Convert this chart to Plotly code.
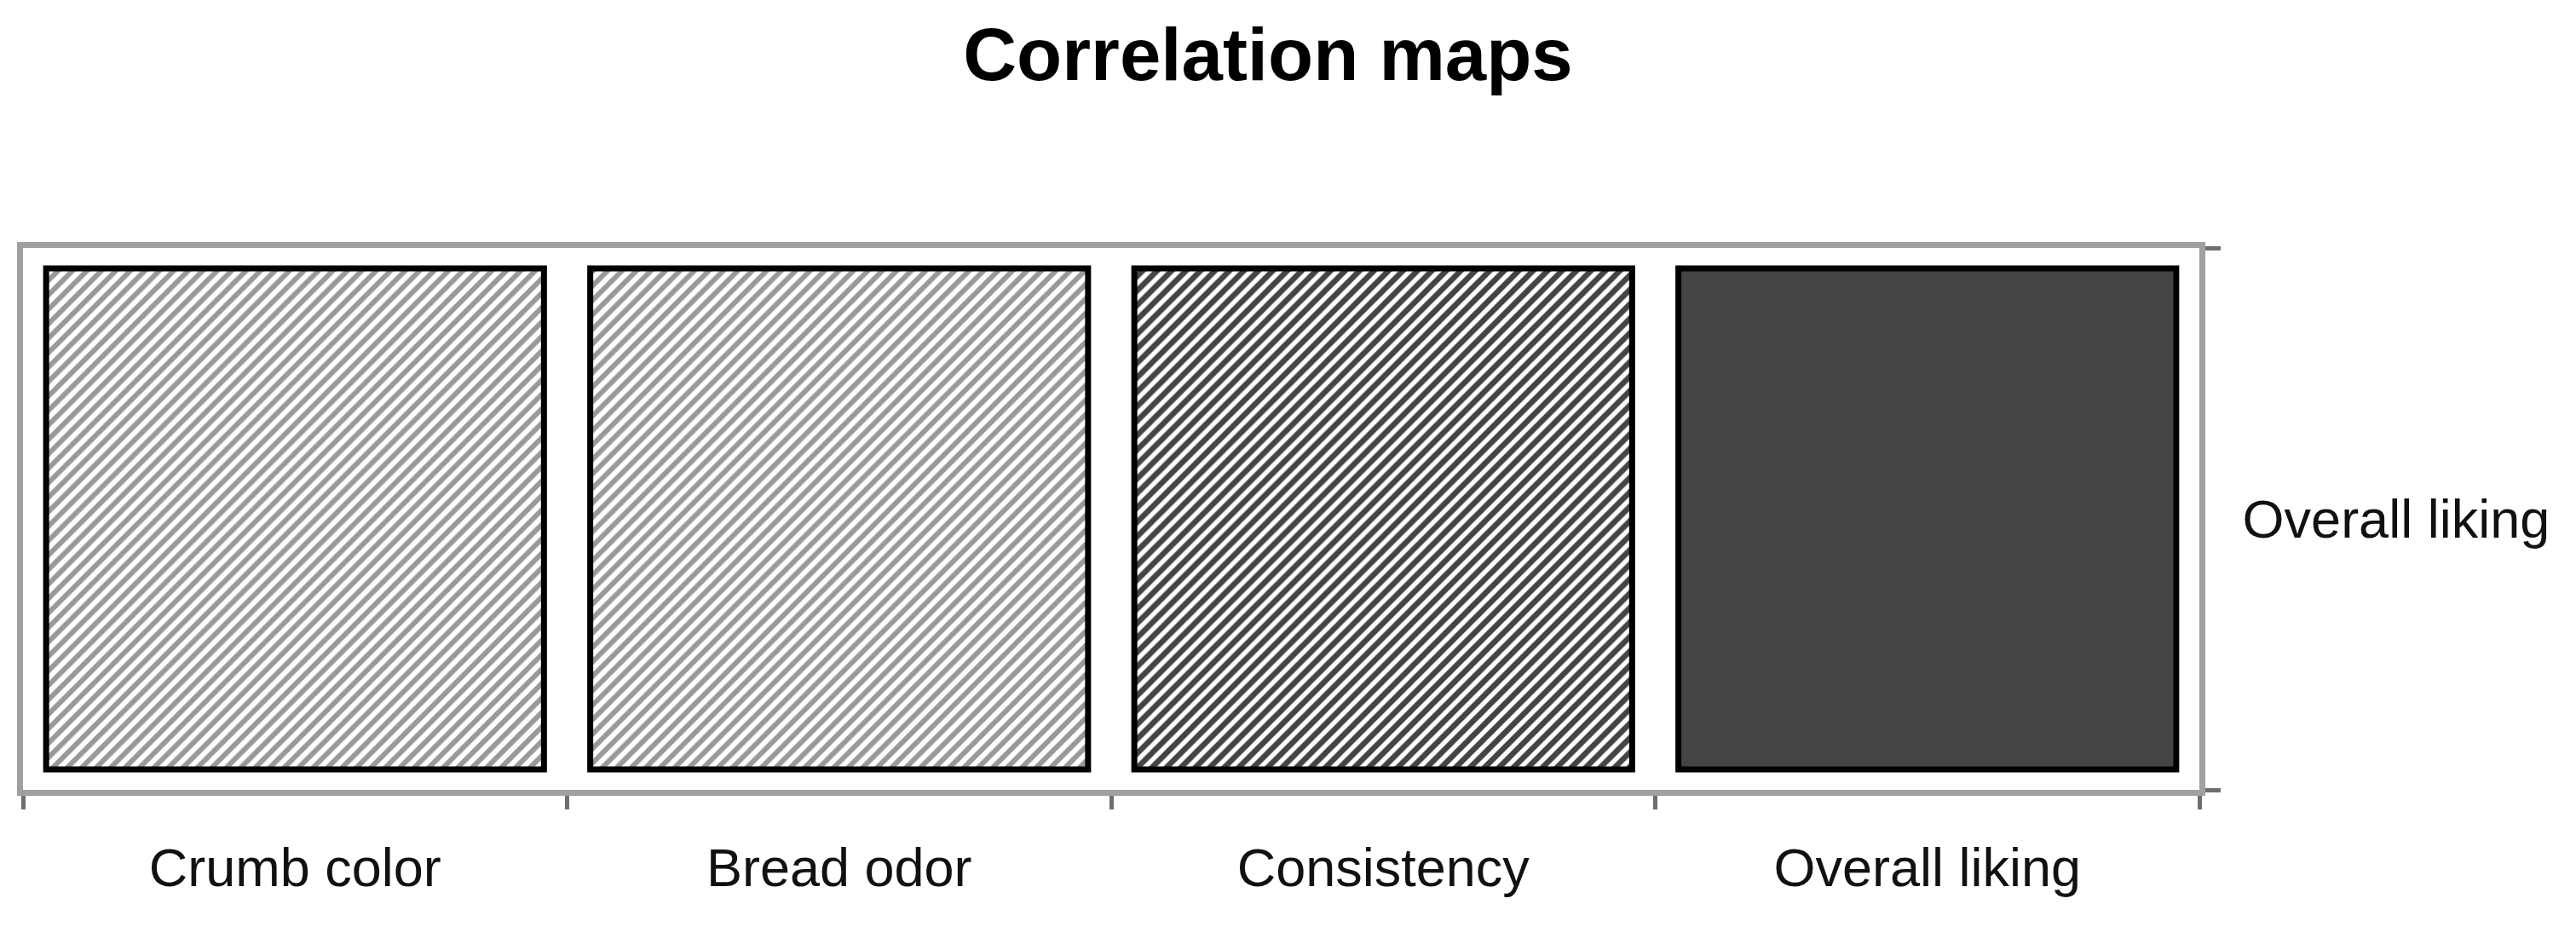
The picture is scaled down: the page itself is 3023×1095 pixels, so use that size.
import plotly.graph_objects as go

# ---- data ----
categories = ["Crumb color", "Bread odor", "Consistency", "Overall liking"]
row_label = "Overall liking"
correlations = [0.55, 0.55, 0.80, 1.00]   # estimated strength with Overall liking
cell_height = [1, 1, 1, 1]                 # one row of the map

# ---- style lookup by correlation class ----
def style_for(r):
    if r >= 0.95:
        return dict(shape="", bg="#444444", fg="#444444", sol=0.5, color="#444444")
    if r >= 0.7:
        return dict(shape="/", bg="#767676", fg="#141414", sol=0.55, color="#444444")
    return dict(shape="/", bg="#b8b8b8", fg="#5a5a5a", sol=0.5, color="#999999")

styles = [style_for(r) for r in correlations]

pad = 0.041
yrange = [-pad, 1 + pad]

fig = go.Figure()
fig.add_trace(go.Bar(
    x=categories,
    y=cell_height,
    customdata=correlations,
    hovertemplate="%{x}: %{customdata}<extra></extra>",
    marker=dict(
        color=[s["color"] for s in styles],
        line=dict(color="#000000", width=7),
        pattern=dict(
            shape=[s["shape"] for s in styles],
            bgcolor=[s["bg"] for s in styles],
            fgcolor=[s["fg"] for s in styles],
            solidity=[s["sol"] for s in styles],
            size=12,
            fillmode="replace",
        ),
    ),
    showlegend=False,
))

font_family = "Liberation Sans, Arial, sans-serif"

fig.update_layout(
    width=3023,
    height=1095,
    paper_bgcolor="white",
    plot_bgcolor="white",
    bargap=0.085,
    margin=dict(l=19, r=450, t=283, b=176),
    title=dict(
        text="<b>Correlation maps</b>",
        x=1480 / 3023,
        xanchor="center",
        xref="container",
        y=1 - 56 / 1095,
        yanchor="middle",
        yref="container",
        font=dict(family=font_family, size=87, color="#000000"),
    ),
    xaxis=dict(
        type="category",
        range=[-0.5, len(categories) - 0.5],
        tickson="boundaries",
        ticks="outside",
        ticklen=16,
        tickwidth=5,
        tickcolor="#6e6e6e",
        showline=True,
        linecolor="#a0a0a0",
        linewidth=7,
        mirror=True,
        showgrid=False,
        zeroline=False,
        ticklabelstandoff=30,
        tickfont=dict(family=font_family, size=63, color="#111111"),
    ),
    yaxis=dict(
        side="right",
        range=yrange,
        tickmode="array",
        tickvals=[0.5],
        ticktext=[row_label],
        ticks="",
        showline=True,
        linecolor="#a0a0a0",
        linewidth=7,
        mirror=True,
        showgrid=False,
        zeroline=False,
        ticklabelstandoff=31,
        tickfont=dict(family=font_family, size=63, color="#111111"),
        minor=dict(
            tickmode="array",
            tickvals=yrange,
            ticks="outside",
            ticklen=18,
            tickwidth=5,
            tickcolor="#6e6e6e",
            showgrid=False,
        ),
    ),
)

fig.write_html("out.html")
